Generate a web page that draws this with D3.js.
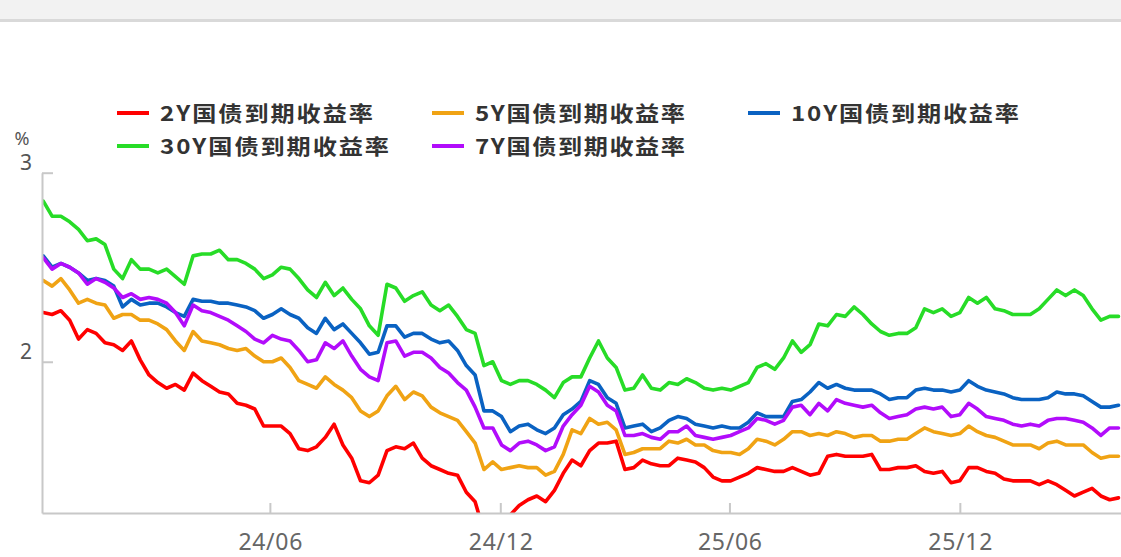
<!DOCTYPE html>
<html>
<head>
<meta charset="utf-8">
<style>
  body { margin: 0; background: #fff; }
  .legend text { font-family: "Noto Sans CJK SC", "Noto Sans", sans-serif; font-size: 21px; font-weight: bold; fill: #333; }
  .axis text { font-family: "Noto Sans", "DejaVu Sans", sans-serif; }
  .axis path, .axis line { stroke: #c8c8c8; stroke-width: 2; }
</style>
</head>
<body>
<svg id="chart" width="1121" height="557"></svg>
<script src="https://d3js.org/d3.v7.min.js"></script>
<script>
// weekly samples, first one on 2023-12-04
const startDate = new Date(2023, 11, 4);
const stepDays = 7;

const names = ["2Y国债到期收益率", "5Y国债到期收益率", "10Y国债到期收益率", "30Y国债到期收益率", "7Y国债到期收益率"];
const colors = ["#ff0000", "#f0a314", "#0a62c2", "#27dc27", "#b20cfb"];

const y2 = [2.26, 2.25, 2.27, 2.22, 2.12, 2.17, 2.15, 2.10, 2.09, 2.06,
  2.11, 2.01, 1.93, 1.89, 1.86, 1.88, 1.85, 1.94, 1.90, 1.87,
  1.84, 1.83, 1.78, 1.77, 1.75, 1.66, 1.66, 1.66, 1.62, 1.54,
  1.53, 1.55, 1.60, 1.67, 1.56, 1.49, 1.37, 1.36, 1.40, 1.53,
  1.55, 1.54, 1.57, 1.49, 1.45, 1.43, 1.41, 1.40, 1.31, 1.26,
  1.10, 1.05, 1.08, 1.19, 1.24, 1.27, 1.29, 1.26, 1.32, 1.41,
  1.48, 1.45, 1.53, 1.57, 1.57, 1.58, 1.43, 1.44, 1.48, 1.46,
  1.45, 1.45, 1.49, 1.48, 1.47, 1.44, 1.39, 1.37, 1.37, 1.39,
  1.41, 1.44, 1.43, 1.42, 1.42, 1.44, 1.42, 1.40, 1.41, 1.50,
  1.51, 1.50, 1.50, 1.50, 1.51, 1.43, 1.43, 1.44, 1.44, 1.45,
  1.42, 1.41, 1.42, 1.36, 1.37, 1.44, 1.44, 1.42, 1.41, 1.38,
  1.37, 1.37, 1.37, 1.35, 1.37, 1.35, 1.32, 1.29, 1.31, 1.33,
  1.29, 1.27, 1.28];
const y5 = [2.43, 2.40, 2.44, 2.38, 2.31, 2.33, 2.31, 2.30, 2.23, 2.25,
  2.25, 2.22, 2.22, 2.20, 2.17, 2.11, 2.06, 2.16, 2.11, 2.10,
  2.09, 2.07, 2.06, 2.07, 2.03, 2.00, 2.00, 2.02, 1.97, 1.90,
  1.88, 1.86, 1.92, 1.88, 1.85, 1.81, 1.74, 1.71, 1.74, 1.82,
  1.87, 1.80, 1.84, 1.82, 1.76, 1.73, 1.71, 1.69, 1.63, 1.57,
  1.43, 1.47, 1.43, 1.44, 1.45, 1.44, 1.44, 1.40, 1.42, 1.51,
  1.64, 1.62, 1.70, 1.67, 1.68, 1.64, 1.51, 1.52, 1.54, 1.54,
  1.54, 1.58, 1.57, 1.59, 1.56, 1.56, 1.53, 1.52, 1.52, 1.51,
  1.54, 1.59, 1.58, 1.56, 1.59, 1.63, 1.63, 1.61, 1.62, 1.61,
  1.63, 1.62, 1.60, 1.61, 1.61, 1.58, 1.58, 1.59, 1.59, 1.62,
  1.65, 1.63, 1.62, 1.61, 1.62, 1.66, 1.63, 1.61, 1.60, 1.58,
  1.56, 1.56, 1.56, 1.54, 1.57, 1.58, 1.56, 1.56, 1.56, 1.52,
  1.49, 1.50, 1.50];
const y10 = [2.56, 2.50, 2.52, 2.50, 2.47, 2.43, 2.44, 2.43, 2.40, 2.29,
  2.33, 2.30, 2.31, 2.31, 2.29, 2.26, 2.24, 2.33, 2.32, 2.32,
  2.31, 2.31, 2.30, 2.29, 2.27, 2.23, 2.25, 2.28, 2.25, 2.23,
  2.18, 2.15, 2.23, 2.17, 2.20, 2.15, 2.10, 2.04, 2.05, 2.19,
  2.19, 2.13, 2.15, 2.15, 2.12, 2.10, 2.11, 2.06, 1.98, 1.93,
  1.74, 1.74, 1.71, 1.63, 1.66, 1.67, 1.64, 1.62, 1.65, 1.72,
  1.75, 1.79, 1.90, 1.88, 1.81, 1.78, 1.65, 1.66, 1.67, 1.63,
  1.65, 1.69, 1.71, 1.70, 1.67, 1.66, 1.65, 1.66, 1.65, 1.65,
  1.68, 1.73, 1.71, 1.71, 1.71, 1.79, 1.80, 1.84, 1.89, 1.86,
  1.88, 1.86, 1.85, 1.85, 1.85, 1.83, 1.80, 1.81, 1.81, 1.85,
  1.86, 1.85, 1.85, 1.84, 1.85, 1.90, 1.87, 1.85, 1.84, 1.83,
  1.81, 1.80, 1.80, 1.80, 1.81, 1.84, 1.83, 1.83, 1.82, 1.79,
  1.76, 1.76, 1.77];
const y30 = [2.85, 2.77, 2.77, 2.74, 2.70, 2.64, 2.65, 2.62, 2.49, 2.44,
  2.54, 2.49, 2.49, 2.47, 2.49, 2.45, 2.41, 2.56, 2.57, 2.57,
  2.59, 2.54, 2.54, 2.52, 2.49, 2.44, 2.46, 2.50, 2.49, 2.44,
  2.38, 2.34, 2.42, 2.35, 2.39, 2.33, 2.28, 2.19, 2.14, 2.41,
  2.39, 2.32, 2.35, 2.37, 2.30, 2.27, 2.30, 2.24, 2.17, 2.15,
  1.98, 2.00, 1.90, 1.88, 1.90, 1.90, 1.88, 1.85, 1.81, 1.89,
  1.92, 1.92, 2.02, 2.11, 2.02, 1.97, 1.85, 1.86, 1.93, 1.86,
  1.85, 1.89, 1.88, 1.91, 1.89, 1.86, 1.85, 1.86, 1.85, 1.87,
  1.89, 1.97, 1.99, 1.96, 2.02, 2.11, 2.05, 2.09, 2.20, 2.19,
  2.25, 2.24, 2.29, 2.25, 2.20, 2.16, 2.14, 2.15, 2.15, 2.18,
  2.28, 2.26, 2.28, 2.24, 2.26, 2.34, 2.31, 2.34, 2.28, 2.27,
  2.25, 2.25, 2.25, 2.28, 2.33, 2.38, 2.35, 2.38, 2.35, 2.28,
  2.22, 2.24, 2.24];
const y7 = [2.55, 2.49, 2.52, 2.50, 2.47, 2.41, 2.44, 2.42, 2.39, 2.34,
  2.36, 2.33, 2.34, 2.33, 2.31, 2.26, 2.19, 2.30, 2.27, 2.26,
  2.24, 2.22, 2.19, 2.16, 2.12, 2.10, 2.14, 2.12, 2.11, 2.06,
  2.00, 2.01, 2.10, 2.07, 2.11, 2.03, 1.96, 1.92, 1.90, 2.10,
  2.11, 2.03, 2.05, 2.05, 2.02, 1.97, 1.94, 1.89, 1.85, 1.76,
  1.65, 1.65, 1.56, 1.53, 1.57, 1.58, 1.56, 1.53, 1.55, 1.66,
  1.72, 1.77, 1.87, 1.84, 1.77, 1.74, 1.61, 1.61, 1.62, 1.60,
  1.59, 1.63, 1.63, 1.66, 1.61, 1.60, 1.59, 1.60, 1.61, 1.63,
  1.65, 1.70, 1.69, 1.67, 1.69, 1.76, 1.77, 1.72, 1.78, 1.74,
  1.80, 1.78, 1.77, 1.76, 1.77, 1.73, 1.70, 1.71, 1.72, 1.75,
  1.76, 1.75, 1.76, 1.71, 1.72, 1.78, 1.75, 1.71, 1.70, 1.69,
  1.67, 1.66, 1.67, 1.66, 1.69, 1.70, 1.70, 1.69, 1.68, 1.65,
  1.61, 1.65, 1.65];

const xTicks = [new Date(2024, 5, 1), new Date(2024, 11, 1), new Date(2025, 5, 1), new Date(2025, 11, 1)];
const yTicks = [2, 3];

const seriesValues = [y2, y5, y10, y30, y7];
const dates = y2.map((v, i) => d3.timeDay.offset(startDate, i * stepDays));

const width = 1121, height = 557;
const svg = d3.select("#chart");

// grey strip of the app header
svg.append("rect").attr("x", 0).attr("y", 0).attr("width", width).attr("height", 19).attr("fill", "#f2f2f2");
svg.append("rect").attr("x", 0).attr("y", 19).attr("width", width).attr("height", 3).attr("fill", "#d9d9d9");

let margin = { left: 42, right: 0, top: 172.7, bottom: 44 };

let xScale = d3.scaleTime()
  .domain([new Date(2023, 11, 3), new Date(2026, 3, 8)])
  .range([margin.left, width - margin.right]);

let yScale = d3.scaleLinear()
  .domain([1.2, 3])
  .range([height - margin.bottom, margin.top]);

svg.append("clipPath").attr("id", "plotClip")
  .append("rect")
  .attr("x", margin.left).attr("y", 0)
  .attr("width", width - margin.left).attr("height", height - margin.bottom);

// lines
const line = d3.line()
  .x((d, i) => xScale(dates[i]))
  .y(d => yScale(d));

svg.append("g")
  .attr("clip-path", "url(#plotClip)")
  .selectAll("path")
  .data(seriesValues)
  .join("path")
  .attr("d", d => line(d))
  .attr("fill", "none")
  .attr("stroke", (d, i) => colors[i])
  .attr("stroke-width", 3.6)
  .attr("stroke-linejoin", "round")
  .attr("stroke-linecap", "round");

// x axis
const xAxis = svg.append("g")
  .attr("class", "axis")
  .attr("transform", "translate(0," + (height - margin.bottom) + ")")
  .call(d3.axisBottom(xScale).tickValues(xTicks).tickFormat(d3.timeFormat("%y/%m")).tickSizeInner(-10).tickSizeOuter(0));
xAxis.selectAll("text")
  .attr("y", 37).attr("dy", null)
  .attr("fill", "#666")
  .style("font-size", "23px")
  .attr("textLength", 64)
  .attr("lengthAdjust", "spacing");

// y axis
const yAxis = svg.append("g")
  .attr("class", "axis")
  .attr("transform", "translate(" + margin.left + ",0)")
  .call(d3.axisLeft(yScale).tickValues(yTicks).tickFormat(d3.format("d")).tickSizeInner(-11).tickSizeOuter(0));
yAxis.selectAll("text")
  .attr("x", -16).attr("y", -3.5).attr("dy", null)
  .attr("text-anchor", "middle")
  .attr("fill", "#555")
  .style("font-size", "21px");

svg.append("text")
  .attr("x", 22).attr("y", 145)
  .attr("text-anchor", "middle")
  .attr("fill", "#555")
  .style("font-family", "'Noto Sans', sans-serif")
  .style("font-size", "18px")
  .text("%");

// legend, 3 per row; text a bit wider than tall like the original
const legendX = [117, 432, 748];
const legendY = [113, 146];
const legendLen = [213, 210, 228, 229, 210];
const stretch = 1.15;

const legend = svg.append("g").attr("class", "legend")
  .selectAll("g")
  .data(names)
  .join("g")
  .attr("transform", (d, i) => "translate(" + legendX[i % 3] + "," + legendY[Math.floor(i / 3)] + ")");

legend.append("line")
  .attr("x1", 0).attr("x2", 32)
  .attr("y1", 0).attr("y2", 0)
  .attr("stroke", (d, i) => colors[i])
  .attr("stroke-width", 4);

legend.append("text")
  .attr("transform", "translate(43,7.5) scale(" + stretch + ",1)")
  .attr("textLength", (d, i) => legendLen[i] / stretch)
  .attr("lengthAdjust", "spacing")
  .text(d => d);
</script>
</body>
</html>
